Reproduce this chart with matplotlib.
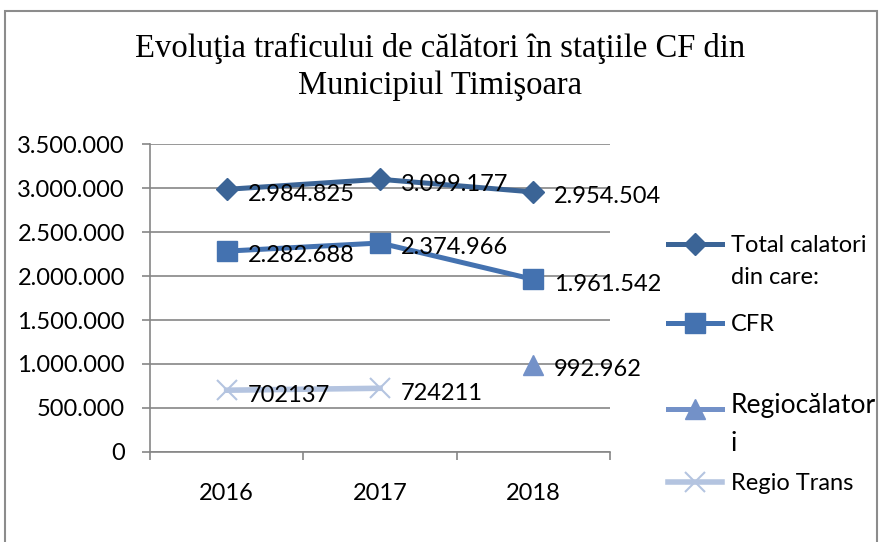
import numpy as np
import matplotlib
matplotlib.use("Agg")
import matplotlib.pyplot as plt
from matplotlib.ticker import FuncFormatter, FixedLocator
from matplotlib.legend_handler import HandlerLine2D
from matplotlib.patches import Rectangle

plt.rcParams['font.family'] = ['Lato', 'DejaVu Sans']

ani = ['2016', '2017', '2018']
total = [2984825, 3099177, 2954504]
cfr = [2282688, 2374966, 1961542]
regiocalatori = [np.nan, np.nan, 992962]
regio_trans = [702137, 724211, np.nan]

nume_serii = ['Total calatori\ndin care:', 'CFR', 'Regiocălator\ni', 'Regio Trans']
culori = ['#3b6496', '#4472b0', '#7391c8', '#b4c4e0']


def cu_puncte(v):
    return f"{int(v):,}".replace(",", ".")


class HandlerPrimaLinie(HandlerLine2D):
    # muta simbolul din legenda in dreptul primului rand de text
    def __init__(self, dy=0, **kw):
        super().__init__(**kw)
        self.dy = dy

    def create_artists(self, legend, orig_handle, xdescent, ydescent,
                       width, height, fontsize, trans):
        arts = super().create_artists(legend, orig_handle, xdescent, ydescent,
                                      width, height, fontsize, trans)
        for a in arts:
            a.set_ydata(np.asarray(a.get_ydata()) + self.dy)
        return arts


fig = plt.figure(figsize=(8.8, 5.42), dpi=100)
ax = fig.add_axes([150/880, 1 - 452/542, 460/880, 308/542])

x = np.arange(len(ani))
l1, = ax.plot(x, total, color=culori[0], lw=3.6, marker='D', ms=11, label=nume_serii[0])
l2, = ax.plot(x, cfr, color=culori[1], lw=3.6, marker='s', ms=14, label=nume_serii[1])
l3, = ax.plot(x, regiocalatori, color=culori[2], lw=3.6, marker='^', ms=14, label=nume_serii[2])
l4, = ax.plot(x, regio_trans, color=culori[3], lw=4, marker='x', ms=15, mew=1.5, label=nume_serii[3])

for serie, fmt in [(total, cu_puncte), (cfr, cu_puncte), (regiocalatori, cu_puncte),
                   (regio_trans, lambda v: str(int(v)))]:
    for xi, v in zip(x, serie):
        if np.isnan(v):
            continue
        ax.annotate(fmt(v), (xi, v), xytext=(15, -3.5), textcoords='offset points',
                    ha='left', va='center', fontsize=17, color='black')

ax.set_xlim(-0.5, 2.5)
ax.set_ylim(0, 3500000)
ax.set_yticks(np.arange(0, 3500001, 500000))
ax.yaxis.set_major_formatter(FuncFormatter(lambda v, p: cu_puncte(v)))
ax.xaxis.set_major_locator(FixedLocator([-0.5, 0.5, 1.5, 2.5]))
ax.xaxis.set_major_formatter(FuncFormatter(lambda v, p: ''))
ax.xaxis.set_minor_locator(FixedLocator(x))
ax.set_xticklabels(ani, minor=True)
ax.tick_params(axis='x', which='major', length=6, width=1.2, color='#868686')
ax.tick_params(axis='x', which='minor', length=0, pad=22, labelsize=17)
ax.tick_params(axis='y', length=6, width=1.2, color='#868686', pad=12, labelsize=17)
ax.grid(axis='y', color='#868686', lw=1.2)
ax.set_axisbelow(True)
for s in ['top', 'right']:
    ax.spines[s].set_visible(False)
for s in ['left', 'bottom']:
    ax.spines[s].set_color('#868686')
    ax.spines[s].set_linewidth(1.2)

fig.text(0.5, 1 - 67/542,
         "Evoluţia traficului de călători în staţiile CF din\nMunicipiul Timişoara",
         ha='center', va='center', family='Liberation Serif', fontsize=23.5,
         linespacing=1.25)

# legenda in doua blocuri, ca in original
stil_leg = dict(loc='upper left', frameon=False, fontsize=17, handlelength=2.3,
                handletextpad=0.35, borderaxespad=0, borderpad=0)
leg1 = fig.legend(handles=[l1, l2], bbox_to_anchor=(668/880, 1 - 235/542),
                  labelspacing=1.1, handler_map={l1: HandlerPrimaLinie(dy=12.5)},
                  **stil_leg)
leg2 = fig.legend(handles=[l3, l4], bbox_to_anchor=(668/880, 1 - 393/542),
                  labelspacing=0.72, handler_map={l3: HandlerPrimaLinie(dy=12.5)},
                  **stil_leg)
for leg in (leg1, leg2):
    for t in leg.get_texts():
        t.set_linespacing(1.65)
leg2.get_texts()[0].set_fontsize(19)

fig.patches.append(Rectangle((5/880, -0.05), 872/880, 1 - 11/542 + 0.05,
                             transform=fig.transFigure, fill=False,
                             edgecolor='#8c8c8c', lw=1.5))

fig.savefig('out.png', dpi=100)
